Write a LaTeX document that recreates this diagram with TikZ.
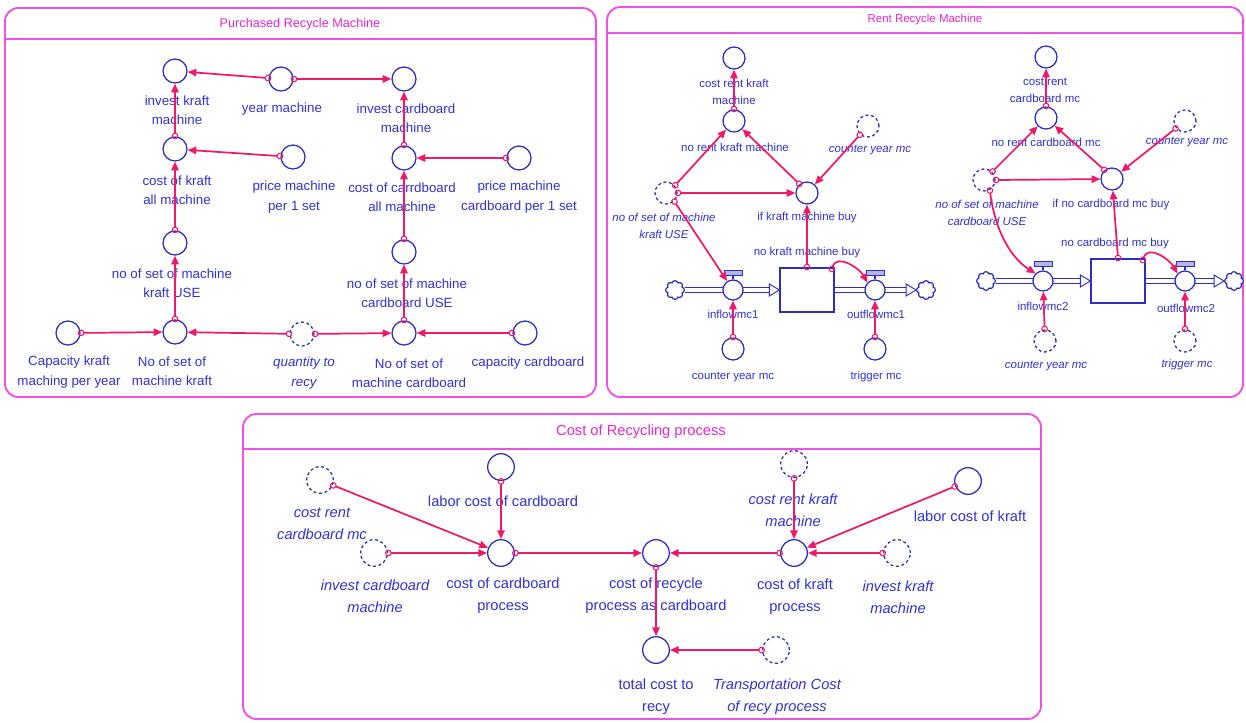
\documentclass[tikz,border=0pt]{standalone}
\usepackage{fontspec}
\setmainfont{Liberation Sans}
\usetikzlibrary{shapes.symbols,arrows.meta,calc}
\definecolor{vblue}{RGB}{45,45,195}
\definecolor{lblue}{RGB}{50,50,210}
\definecolor{cpink}{RGB}{240,25,105}
\definecolor{fmag}{RGB}{240,80,228}
\definecolor{tmag}{RGB}{230,40,205}
\newcommand\fnA{\fontsize{10}{14.6}\selectfont}
\newcommand\fnB{\fontsize{8.6}{12.8}\selectfont}
\newcommand\fnC{\fontsize{11}{16.5}\selectfont}
\begin{document}
\begin{tikzpicture}[x=0.75pt,y=-0.75pt,
  var/.style={circle,draw=vblue,line width=0.95pt,fill=white,inner sep=0pt,minimum size=#1},
  var/.default=18pt,
  ghost/.style={var=#1,dash pattern=on 2.2pt off 2pt},
  ghost/.default=18pt,
  valve/.style={circle,draw=vblue,line width=0.95pt,fill=white,inner sep=0pt,minimum size=15pt},
  stockbox/.style={rectangle,draw=vblue,line width=0.95pt,fill=white,minimum width=40.5pt,minimum height=33pt,inner sep=0pt},
  cloudn/.style={cloud,cloud puffs=8,aspect=1,draw=vblue,line width=0.9pt,fill=white,minimum width=14pt,minimum height=14pt,inner sep=0pt},
  pipe/.style={draw=vblue,line width=0.7pt,double=white,double distance=2.8pt},
  pipehead/.style={draw=vblue,line width=0.7pt,fill=white},
  valvebar/.style={draw=vblue,line width=0.6pt,fill=vblue!35},
  conn/.style={draw=cpink,line width=1.3pt,shorten <=-2.2pt,{Circle[open,length=5pt,width=5pt,line width=0.8pt]}-{Triangle[length=6.5pt,width=5.5pt]}},
  frame/.style={draw=fmag,line width=1.4pt,rounded corners=10pt},
  hline/.style={draw=fmag,line width=1.4pt},
  la/.style={text=lblue,align=center,inner sep=0pt,font=\fnA},
  lai/.style={text=lblue,align=center,inner sep=0pt,font=\fnA\itshape},
  lb/.style={text=lblue,align=center,inner sep=0pt,font=\fnB},
  lbi/.style={text=lblue,align=center,inner sep=0pt,font=\fnB\itshape},
  lc/.style={text=lblue,align=center,inner sep=0pt,font=\fnC},
  lci/.style={text=lblue,align=center,inner sep=0pt,font=\fnC\itshape},
  ttl/.style={text=tmag,inner sep=0pt}
]
\useasboundingbox (0,0) rectangle (1246,722);
\fill[white] (0,0) rectangle (1246,722);

% ================= Panel 1 : Purchased =================
\draw[frame] (5,8) rectangle (596,397);
\draw[hline] (5,39) -- (596,39);
\node[ttl,font=\fontsize{9.5}{11}\selectfont] (t1) at (300,24) {Purchased Recycle Machine};

\node[var] (ik) at (175,71) {};
\node[var] (ym) at (281,79) {};
\node[var] (ic) at (404,79) {};
\node[var] (ck) at (175,149) {};
\node[var] (pk) at (293,157) {};
\node[var] (cc) at (404,158) {};
\node[var] (pc) at (519,158) {};
\node[var] (uk) at (175,243) {};
\node[var] (uc) at (404,252) {};
\node[var] (capk) at (68,333) {};
\node[var] (nk) at (175,332) {};
\node[ghost] (q) at (302,334) {};
\node[var] (nc) at (404,333) {};
\node[var] (capc) at (525,333) {};

\node[la] (l-ik) at (177,110) {invest kraft\\machine};
\node[la] (l-ym) at (282,109) {year machine};
\node[la] (l-ic) at (406,118) {invest cardboard\\machine};
\node[la] (l-ck) at (177,190) {cost of kraft\\all machine};
\node[la] (l-pk) at (294,197) {price machine\\per 1 set};
\node[la] (l-cc) at (402,197) {cost of carrdboard\\all machine};
\node[la] (l-pc) at (519,197) {price machine\\cardboard per 1 set};
\node[la] (l-uk) at (172,283) {no of set of machine\\kraft USE};
\node[la] (l-uc) at (407,293) {no of set of machine\\cardboard USE};
\node[la] (l-capk) at (69,372) {Capacity kraft\\maching per year};
\node[la] (l-nk) at (172,371) {No of set of\\machine kraft};
\node[lai] (l-q) at (304,373) {quantity to\\recy};
\node[la] (l-nc) at (409,373) {No of set of\\machine cardboard};
\node[la] (l-capc) at (528,363) {capacity cardboard};

\draw[conn] (ym) -- (ik);
\draw[conn] (ym) -- (ic);
\draw[conn] (ck) -- (ik);
\draw[conn] (pk) -- (ck);
\draw[conn] (cc) -- (ic);
\draw[conn] (pc) -- (cc);
\draw[conn] (uk) -- (ck);
\draw[conn] (nk) -- (uk);
\draw[conn] (uc) -- (cc);
\draw[conn] (nc) -- (uc);
\draw[conn] (capk) -- (nk);
\draw[conn] (q) -- (nk);
\draw[conn] (q) -- (nc);
\draw[conn] (capc) -- (nc);

% ================= Panel 2 : Rent =================
\draw[frame] (607,7) rectangle (1243,397);
\draw[hline] (607,33) -- (1243,33);
\node[ttl,font=\fontsize{8.6}{10}\selectfont] (t2) at (925,20) {Rent Recycle Machine};

% left group
\node[var=16.5pt] (crk) at (734,58) {};
\node[var=16.5pt] (nrk) at (734,121) {};
\node[ghost=16.5pt] (cym1) at (868,126) {};
\node[ghost=16.5pt] (nsk) at (666,193) {};
\node[var=16.5pt] (ikb) at (807,193) {};
\node[stockbox] (stock1) at (807,290) {};
\node[cloudn] (cl1) at (675,290) {};
\node[cloudn] (cl2) at (926,290) {};
\node[var=16.5pt] (cym2) at (733,349) {};
\node[var=16.5pt] (trg1) at (875,349) {};

\draw[pipe] (cl1.east) -- ($(stock1.west)+(-9,0)$);
\draw[pipehead] ($(stock1.west)+(-10,-6)$) -- (stock1.west) -- ($(stock1.west)+(-10,6)$) -- cycle;
\draw[pipe] (stock1.east) -- ($(cl2.west)+(-9,0)$);
\draw[pipehead] ($(cl2.west)+(-10,-6)$) -- (cl2.west) -- ($(cl2.west)+(-10,6)$) -- cycle;
\node[valve] (v1) at (733,290) {};
\node[valve] (v2) at (875,290) {};
\draw[vblue,line width=0.8pt] (v1.north) -- ++(0,-4);
\draw[valvebar] ($(v1.north)+(-9,-9)$) rectangle ($(v1.north)+(9,-4)$);
\draw[vblue,line width=0.8pt] (v2.north) -- ++(0,-4);
\draw[valvebar] ($(v2.north)+(-9,-9)$) rectangle ($(v2.north)+(9,-4)$);

\node[lb] (l-crk) at (734,92) {cost rent kraft\\machine};
\node[lb] (l-nrk) at (735,147) {no rent kraft machine};
\node[lbi] (l-cym1) at (870,150) {counter year mc};
\node[lbi] (l-nsk) at (664,226) {no of set of machine\\kraft USE};
\node[lb] (l-ikb) at (807,218) {if kraft machine buy};
\node[lb] (l-stock1) at (807,253) {no kraft machine buy};
\node[lb] (l-v1) at (733,314) {inflowmc1};
\node[lb] (l-v2) at (876,314) {outflowmc1};
\node[lb] (l-cym2) at (733,377) {counter year mc};
\node[lb] (l-trg1) at (876,377) {trigger mc};

\draw[conn] (nrk) -- (crk);
\draw[conn] (nsk.40) -- (nrk);
\draw[conn] (nsk.east) -- (ikb);
\draw[conn] (ikb.130) -- (nrk);
\draw[conn] (cym1) -- (ikb);
\draw[conn] (stock1.north) -- (ikb);
\draw[conn] (nsk.-45) -- (v1);
\draw[conn] (cym2) -- (v1);
\draw[conn] (trg1) -- (v2);
\draw[conn] ($(stock1.north east)+(-3,2)$) .. controls +(6,-16) and +(-8,-14) .. (v2.north west);

% right group
\node[var=16.5pt] (crc) at (1046,57) {};
\node[var=16.5pt] (nrc) at (1046,118) {};
\node[ghost=16.5pt] (cym3) at (1185,121) {};
\node[ghost=16.5pt] (nsc) at (984,180) {};
\node[var=16.5pt] (incb) at (1112,179) {};
\node[stockbox] (stock2) at (1118,281) {};
\node[cloudn] (cl3) at (986,281) {};
\node[cloudn] (cl4) at (1234,281) {};
\node[ghost=16.5pt] (cym4) at (1045,341) {};
\node[ghost=16.5pt] (trg2) at (1185,341) {};

\draw[pipe] (cl3.east) -- ($(stock2.west)+(-9,0)$);
\draw[pipehead] ($(stock2.west)+(-10,-6)$) -- (stock2.west) -- ($(stock2.west)+(-10,6)$) -- cycle;
\draw[pipe] (stock2.east) -- ($(cl4.west)+(-9,0)$);
\draw[pipehead] ($(cl4.west)+(-10,-6)$) -- (cl4.west) -- ($(cl4.west)+(-10,6)$) -- cycle;
\node[valve] (v3) at (1043,281) {};
\node[valve] (v4) at (1185,281) {};
\draw[vblue,line width=0.8pt] (v3.north) -- ++(0,-4);
\draw[valvebar] ($(v3.north)+(-9,-9)$) rectangle ($(v3.north)+(9,-4)$);
\draw[vblue,line width=0.8pt] (v4.north) -- ++(0,-4);
\draw[valvebar] ($(v4.north)+(-9,-9)$) rectangle ($(v4.north)+(9,-4)$);

\node[lb] (l-crc) at (1045,90) {cost rent\\cardboard mc};
\node[lb] (l-nrc) at (1046,142) {no rent cardboard mc};
\node[lbi] (l-cym3) at (1187,142) {counter year mc};
\node[lbi] (l-nsc) at (987,213) {no of set of machine\\cardboard USE};
\node[lb] (l-incb) at (1111,205) {if no cardboard mc buy};
\node[lb] (l-stock2) at (1115,244) {no cardboard mc buy};
\node[lb] (l-v3) at (1043,306) {inflowmc2};
\node[lb] (l-v4) at (1186,308) {outflowmc2};
\node[lbi] (l-cym4) at (1046,366) {counter year mc};
\node[lbi] (l-trg2) at (1187,365) {trigger mc};

\draw[conn] (nrc) -- (crc);
\draw[conn] (nsc.45) -- (nrc);
\draw[conn] (nsc.east) -- (incb);
\draw[conn] (incb.130) -- (nrc);
\draw[conn] (cym3) -- (incb);
\draw[conn] (stock2.north) -- (incb);
\draw[conn] (nsc.-60) .. controls +(6,45) and +(-22,-14) .. (v3.north west);
\draw[conn] (cym4) -- (v3);
\draw[conn] (trg2) -- (v4);
\draw[conn] ($(stock2.north east)+(-3,2)$) .. controls +(6,-16) and +(-8,-14) .. (v4.north west);

% ================= Panel 3 : Cost =================
\draw[frame] (243,414) rectangle (1041,719);
\draw[hline] (243,449) -- (1041,449);
\node[ttl,font=\fontsize{11}{13}\selectfont] (t3) at (641,432) {Cost of Recycling process};

\node[ghost=20pt] (crcm) at (320,480) {};
\node[ghost=20pt] (icm) at (374,553) {};
\node[var=20pt] (lcc) at (501,467) {};
\node[var=20pt] (ccp) at (501,553) {};
\node[var=20pt] (crp) at (656,553) {};
\node[var=20pt] (tcr) at (656,650) {};
\node[ghost=20pt] (crkm) at (794,464) {};
\node[var=20pt] (ckp) at (794,553) {};
\node[var=20pt] (lck) at (968,481) {};
\node[ghost=20pt] (ikm) at (897,553) {};
\node[ghost=20pt] (trc) at (776,650) {};

\node[lci] (l-crcm) at (322,524) {cost rent\\cardboard mc};
\node[lci] (l-icm) at (375,596) {invest cardboard\\machine};
\node[lc] (l-lcc) at (503,501) {labor cost of cardboard};
\node[lc] (l-ccp) at (503,596) {cost of cardboard\\process};
\node[lc] (l-crp) at (656,596) {cost of recycle\\process as cardboard};
\node[lc] (l-tcr) at (656,697) {total cost to\\recy};
\node[lci] (l-crkm) at (793,510) {cost rent kraft\\machine};
\node[lc] (l-ckp) at (795,597) {cost of kraft\\process};
\node[lc] (l-lck) at (970,516) {labor cost of kraft};
\node[lci] (l-ikm) at (898,597) {invest kraft\\machine};
\node[lci] (l-trc) at (777,697) {Transportation Cost\\of recy process};

\draw[conn] (crcm) -- (ccp);
\draw[conn] (icm) -- (ccp);
\draw[conn] (lcc) -- (ccp);
\draw[conn] (ccp) -- (crp);
\draw[conn] (ckp) -- (crp);
\draw[conn] (crkm) -- (ckp);
\draw[conn] (lck) -- (ckp);
\draw[conn] (ikm) -- (ckp);
\draw[conn] (crp) -- (tcr);
\draw[conn] (trc) -- (tcr);
\end{tikzpicture}
\end{document}
